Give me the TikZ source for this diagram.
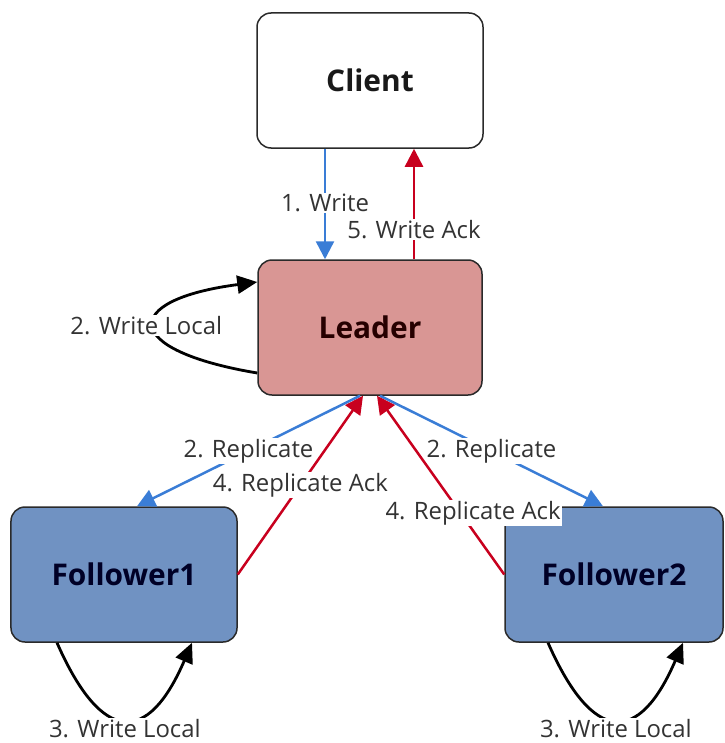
\documentclass[tikz,border=0pt]{standalone}
\usepackage{fontspec}
\setmainfont{Open Sans}
\usetikzlibrary{arrows.meta}
\definecolor{leaderfill}{HTML}{D99694}
\definecolor{followfill}{HTML}{7092C2}
\definecolor{wblue}{HTML}{3A7DD6}
\definecolor{ackred}{HTML}{C8001E}
\definecolor{boxline}{HTML}{2A2A2A}
\definecolor{labeltext}{HTML}{333333}
\begin{document}
\begin{tikzpicture}[x=1bp,y=-1bp,
  box/.style={draw=boxline, line width=1.5bp, rounded corners=14bp,
    minimum width=226bp, minimum height=135bp, inner sep=0pt,
    font=\fontsize{30}{34}\selectfont\bfseries},
  lbl/.style={fill=white, text=labeltext, inner sep=1bp,
    font=\fontsize{24}{28}\selectfont},
  link/.style={line width=2.5bp, -{Triangle[length=18bp,width=18bp]}},
  selfloop/.style={line width=2.8bp, -{Triangle[length=20bp,width=18bp]}}]
\useasboundingbox (0,0) rectangle (725,743);

% servers
\node[box, fill=white, text=black!90] (client) at (370,80.5) {Client};
\node[box, fill=leaderfill, minimum width=224bp, text=black!85!red] (leader) at (370,327.5) {Leader};
\node[box, fill=followfill, text=black!85!blue] (follower1) at (124,574.5) {Follower1};
\node[box, fill=followfill, minimum width=218bp, text=black!85!blue] (follower2) at (614,574.5) {Follower2};

% client <-> leader
\draw[link, wblue] ([xshift=-45bp]client.south) -- node[lbl, pos=0.49] {1. Write} ([xshift=-45bp]leader.north);
\draw[link, ackred] ([xshift=44bp]leader.north) -- node[lbl, pos=0.27] {5. Write Ack} ([xshift=44bp]client.south);

% leader local write
\draw[selfloop, black] ([yshift=-45.5bp]leader.west) .. controls (120,350) and (120,300) .. node[lbl, pos=0.5, xshift=-8bp] {2. Write Local} ([yshift=45.5bp]leader.west);

% replication
\draw[link, wblue] ([xshift=-10bp]leader.south) -- node[lbl] {2. Replicate} ([xshift=13bp]follower1.north);
\draw[link, wblue] ([xshift=10bp]leader.south) -- node[lbl] {2. Replicate} ([xshift=-11bp]follower2.north);
\draw[link, ackred] (follower1.east) -- node[lbl] {4. Replicate Ack} ([xshift=-7bp]leader.south);
\draw[link, ackred] (follower2.west) -- node[lbl, pos=0.3, xshift=7bp, yshift=8bp] {4. Replicate Ack} ([xshift=7bp]leader.south);

% follower local writes
\draw[selfloop, black] ([xshift=-67bp]follower1.south) .. controls (102,745) and (148,745) .. node[lbl, pos=0.5, yshift=-9bp] {3. Write Local} ([xshift=68bp]follower1.south);
\draw[selfloop, black] ([xshift=-66bp]follower2.south) .. controls (593,745) and (639,745) .. node[lbl, pos=0.5, yshift=-9bp] {3. Write Local} ([xshift=69bp]follower2.south);
\end{tikzpicture}
\end{document}
